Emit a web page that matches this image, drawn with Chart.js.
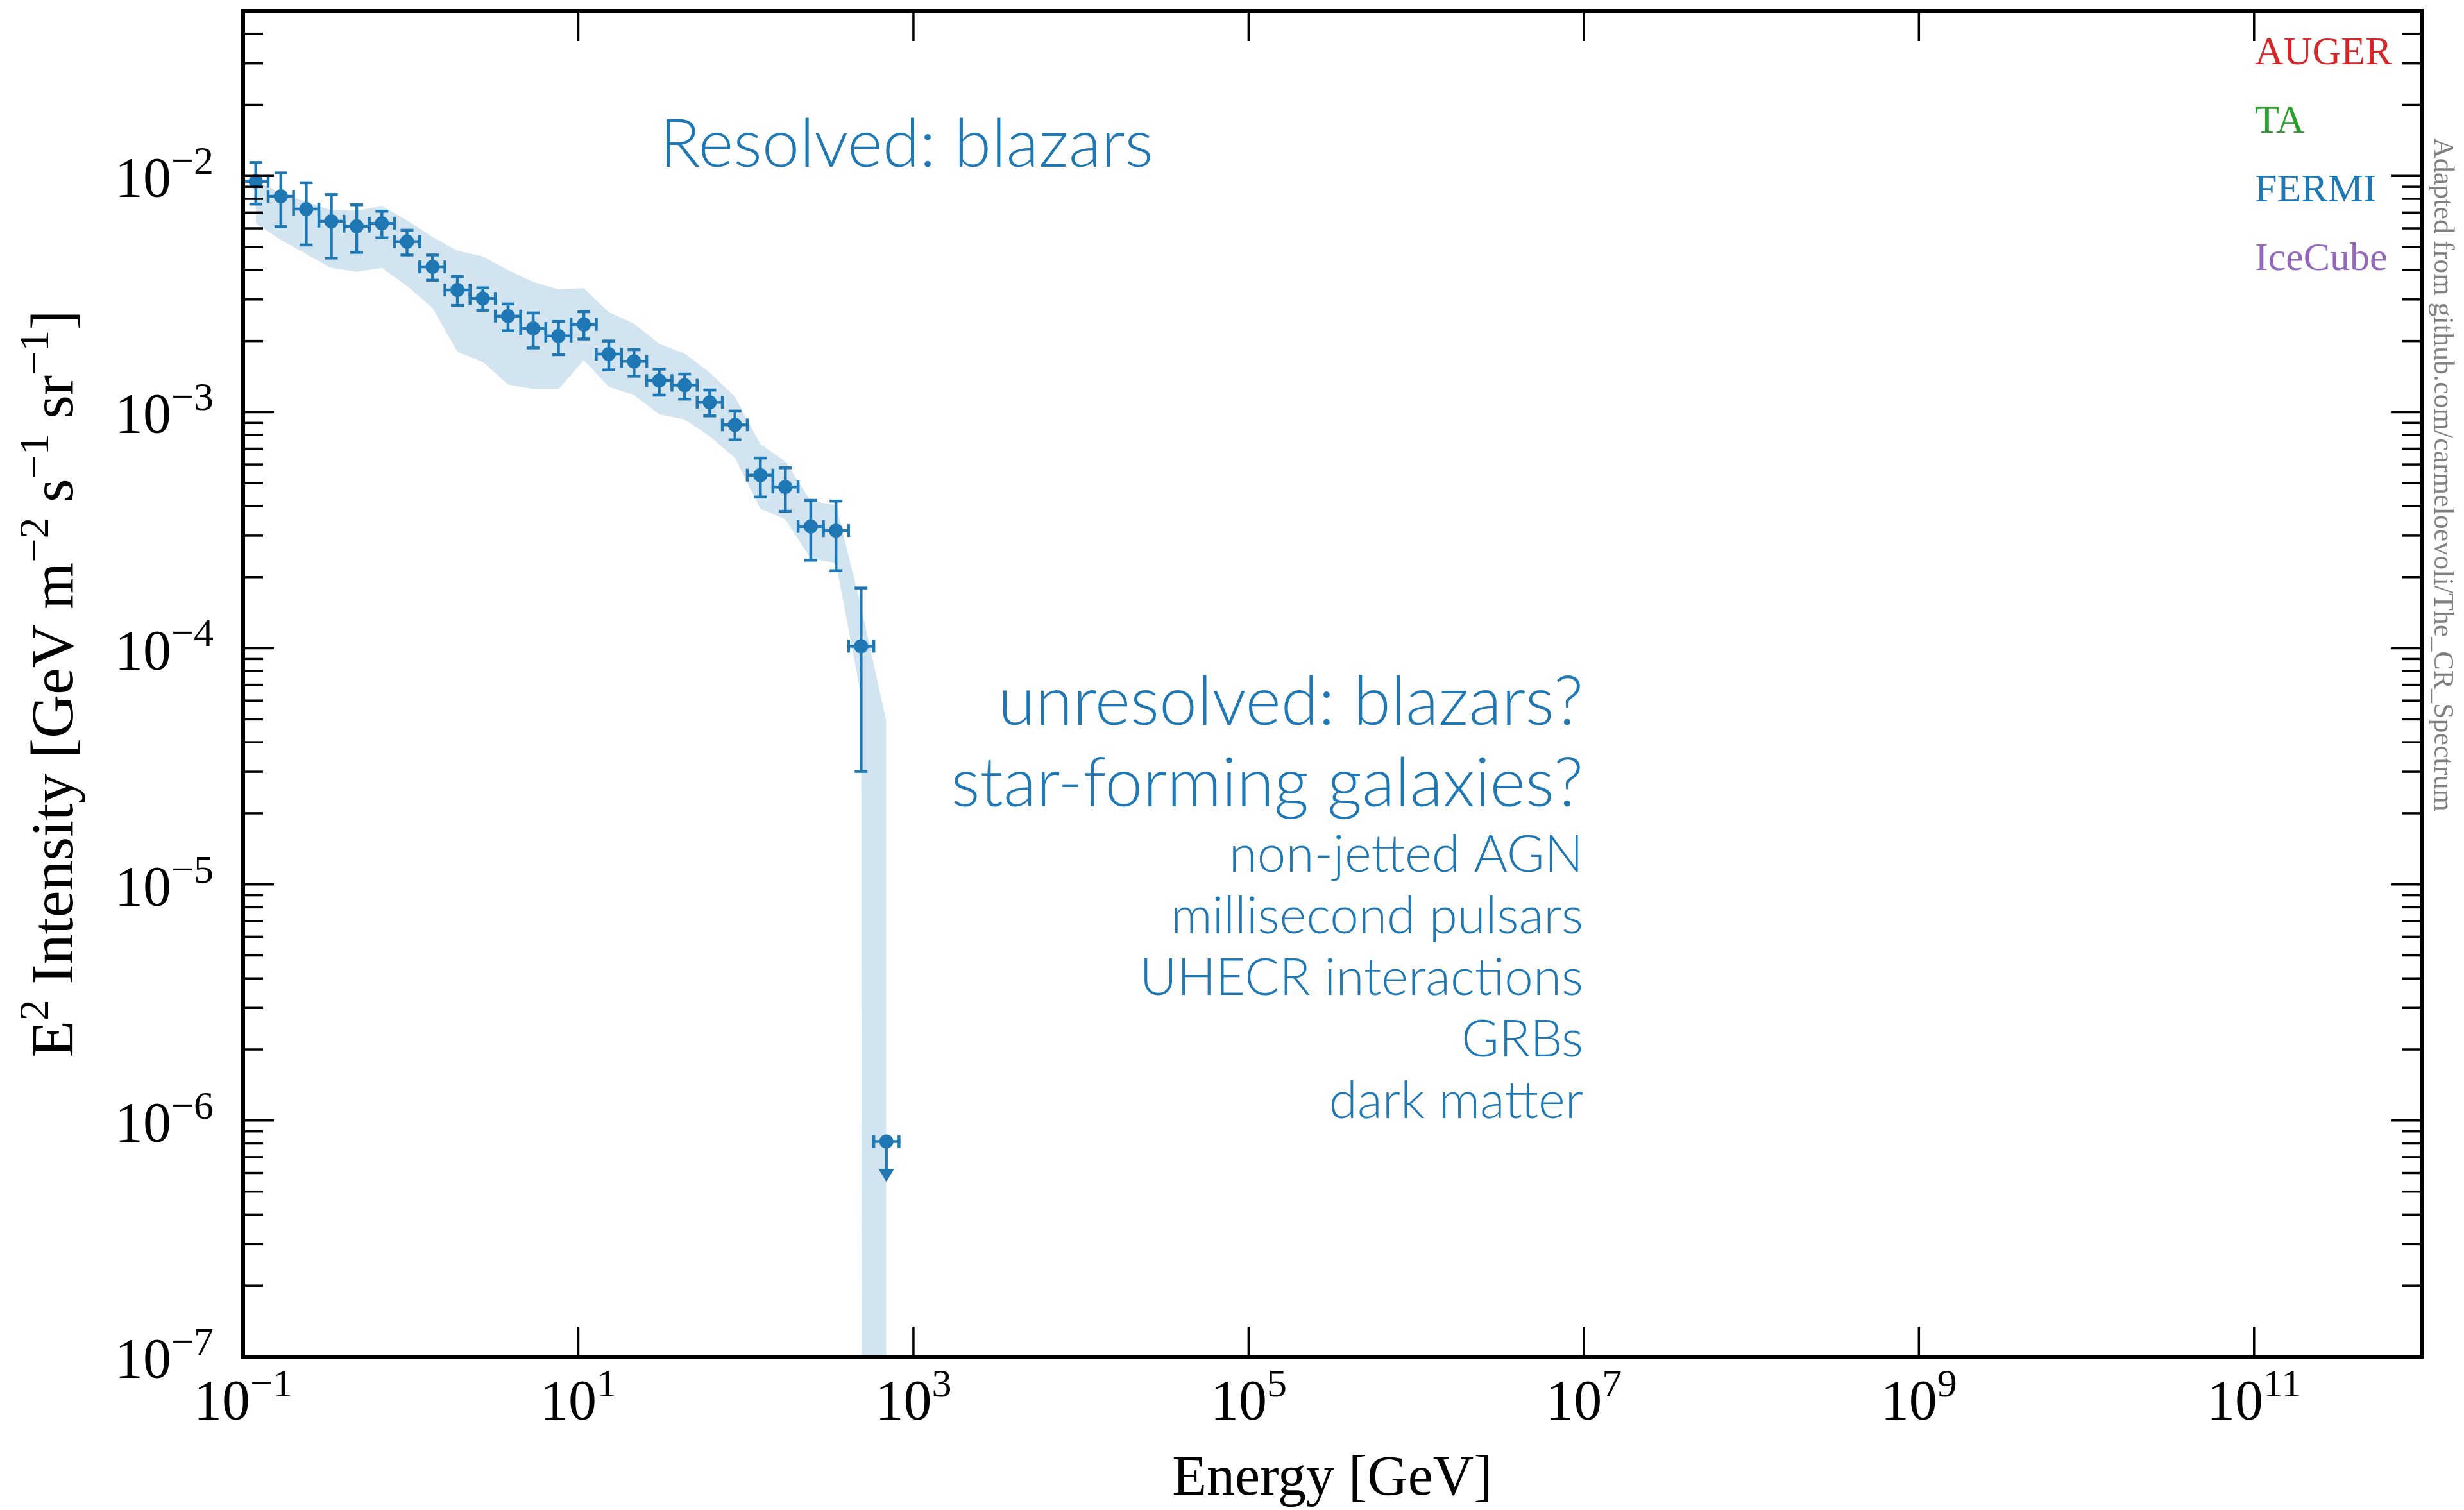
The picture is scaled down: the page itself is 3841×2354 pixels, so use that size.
<!DOCTYPE html>
<html>
<head>
<meta charset="utf-8">
<script src="https://cdn.jsdelivr.net/npm/chart.js@4.4.1/dist/chart.umd.min.js"></script>
<style>
  html, body { margin: 0; padding: 0; background: #fff; }
  #wrap { width: 3841px; height: 2354px; }
</style>
</head>
<body>
<div id="wrap"><canvas id="igrb" width="3841" height="2354"></canvas></div>
<script>
// Fermi-LAT isotropic gamma-ray background, E^2 I(E) in GeV m^-2 s^-1 sr^-1
const energy     = [0.119, 0.168, 0.238, 0.336, 0.476, 0.673, 0.951, 1.35, 1.90, 2.69, 3.81, 5.38, 7.61,
                    10.8, 15.2, 21.5, 30.4, 43.1, 60.9, 86.1, 122, 172, 244, 345, 487];
const energyLo   = [0.1, 0.141, 0.2, 0.283, 0.4, 0.566, 0.8, 1.13, 1.6, 2.26, 3.2, 4.53, 6.4,
                    9.05, 12.8, 18.1, 25.6, 36.2, 51.2, 72.4, 102, 145, 205, 290, 410];
const energyHi   = [0.141, 0.2, 0.283, 0.4, 0.566, 0.8, 1.13, 1.6, 2.26, 3.2, 4.53, 6.4, 9.05,
                    12.8, 18.1, 25.6, 36.2, 51.2, 72.4, 102, 145, 205, 290, 410, 580];
const intensity  = [9.49e-3, 8.2e-3, 7.24e-3, 6.43e-3, 6.12e-3, 6.3e-3, 5.27e-3, 4.12e-3, 3.29e-3, 3.03e-3,
                    2.55e-3, 2.26e-3, 2.1e-3, 2.35e-3, 1.76e-3, 1.64e-3, 1.36e-3, 1.30e-3, 1.10e-3, 8.83e-4,
                    5.41e-4, 4.82e-4, 3.28e-4, 3.15e-4, 1.02e-4];
const intensityHi = [1.14e-2, 1.03e-2, 9.36e-3, 8.34e-3, 7.55e-3, 7.09e-3, 5.89e-3, 4.63e-3, 3.75e-3, 3.36e-3,
                     2.87e-3, 2.63e-3, 2.42e-3, 2.66e-3, 2.0e-3, 1.84e-3, 1.52e-3, 1.45e-3, 1.24e-3, 1.01e-3,
                     6.39e-4, 5.81e-4, 4.23e-4, 4.2e-4, 1.8e-4];
const intensityLo = [7.6e-3, 6.1e-3, 5.1e-3, 4.49e-3, 4.75e-3, 5.47e-3, 4.63e-3, 3.62e-3, 2.83e-3, 2.70e-3,
                     2.21e-3, 1.87e-3, 1.75e-3, 2.04e-3, 1.51e-3, 1.42e-3, 1.18e-3, 1.135e-3, 9.64e-4, 7.63e-4,
                     4.37e-4, 3.8e-4, 2.36e-4, 2.13e-4, 3.01e-5];

// last bin is an upper limit
const limitEnergy = 689, limitEnergyLo = 580, limitEnergyHi = 820;
const limitValue = 8.15e-7, limitArrowTo = 5.5e-7;

// foreground-model systematic band (lower edge falls to zero in the last bin)
const bandEnergy = [0.119, 0.168, 0.238, 0.336, 0.476, 0.673, 0.951, 1.35, 1.90, 2.69, 3.81, 5.38, 7.61,
                    10.8, 15.2, 21.5, 30.4, 43.1, 60.9, 86.1, 122, 172, 244, 345, 487, 689];
const bandHi = [9.46e-3, 8.52e-3, 7.75e-3, 7.17e-3, 7.13e-3, 7.47e-3, 6.49e-3, 5.51e-3, 4.82e-3, 4.57e-3,
                3.99e-3, 3.56e-3, 3.31e-3, 3.35e-3, 2.65e-3, 2.37e-3, 1.95e-3, 1.77e-3, 1.47e-3, 1.16e-3,
                7.31e-4, 6.19e-4, 4.2e-4, 4.05e-4, 1.5e-4, 4.9e-5];
const bandLo = [6.3e-3, 5.36e-3, 4.67e-3, 4.08e-3, 3.93e-3, 4.08e-3, 3.42e-3, 2.76e-3, 1.80e-3, 1.63e-3,
                1.31e-3, 1.25e-3, 1.25e-3, 1.66e-3, 1.28e-3, 1.18e-3, 9.8e-4, 9.3e-4, 7.9e-4, 6.4e-4,
                3.9e-4, 3.52e-4, 2.39e-4, 2.3e-4, 6.3e-5, 1e-99];

const xTickExps = [-1, 1, 3, 5, 7, 9, 11];
const yTickExps = [-7, -6, -5, -4, -3, -2];
const minorMultiples = [2, 3, 4, 5, 6, 7, 8, 9];

const experiments = ["AUGER", "TA", "FERMI", "IceCube"];
const experimentColors = ["#d62728", "#2ca02c", "#1f77b4", "#9467bd"];

const resolvedText = "Resolved: blazars";
const unresolvedText = ["unresolved: blazars?", "star-forming galaxies?"];
const otherSources = ["non-jetted AGN", "millisecond pulsars", "UHECR interactions", "GRBs", "dark matter"];

const BLUE = "#1f77b4";
const SERIF = '"Liberation Serif", "DejaVu Serif", serif';
const LATO = '"Lato Light", Lato, sans-serif';

function seg(ctx, x0, y0, x1, y1) {
  ctx.beginPath();
  ctx.moveTo(x0, y0);
  ctx.lineTo(x1, y1);
  ctx.stroke();
}

// text made of [text, isSuperscript] pieces, drawn along one baseline
function runWidth(ctx, parts, size) {
  let w = 0;
  parts.forEach(([t, sup]) => {
    ctx.font = `${sup ? Math.round(size * 0.7) : size}px ${SERIF}`;
    w += ctx.measureText(t).width;
  });
  return w;
}
function drawRun(ctx, parts, x, y, size) {
  parts.forEach(([t, sup]) => {
    ctx.font = `${sup ? Math.round(size * 0.7) : size}px ${SERIF}`;
    ctx.fillText(t, x, sup ? y - size * 0.4 : y);
    x += ctx.measureText(t).width;
  });
}
function powerParts(exp) {
  return [["10", false], [exp < 0 ? "\u2212" + (-exp) : String(exp), true]];
}

const errorBars = {
  id: "errorBars",
  afterDatasetsDraw(chart) {
    const { ctx, scales: { x, y } } = chart;
    const cap = 10;
    ctx.save();
    ctx.strokeStyle = BLUE;
    ctx.fillStyle = BLUE;
    ctx.lineWidth = 4.5;
    energy.forEach((e, i) => {
      const px = x.getPixelForValue(e);
      const py = y.getPixelForValue(intensity[i]);
      const yt = y.getPixelForValue(intensityHi[i]);
      const yb = y.getPixelForValue(intensityLo[i]);
      const xl = x.getPixelForValue(energyLo[i]);
      const xr = x.getPixelForValue(energyHi[i]);
      seg(ctx, px, yt, px, yb);
      seg(ctx, px - cap, yt, px + cap, yt);
      seg(ctx, px - cap, yb, px + cap, yb);
      seg(ctx, xl, py, xr, py);
      seg(ctx, xl, py - cap, xl, py + cap);
      seg(ctx, xr, py - cap, xr, py + cap);
    });
    // upper limit with arrow
    const lx = x.getPixelForValue(limitEnergy);
    const ly = y.getPixelForValue(limitValue);
    const tip = y.getPixelForValue(limitArrowTo);
    const xl = x.getPixelForValue(limitEnergyLo);
    const xr = x.getPixelForValue(limitEnergyHi);
    seg(ctx, xl, ly, xr, ly);
    seg(ctx, xl, ly - cap, xl, ly + cap);
    seg(ctx, xr, ly - cap, xr, ly + cap);
    seg(ctx, lx, ly, lx, tip - 16);
    ctx.beginPath();
    ctx.moveTo(lx - 12, tip - 20);
    ctx.lineTo(lx + 12, tip - 20);
    ctx.lineTo(lx, tip);
    ctx.closePath();
    ctx.fill();
    ctx.restore();
  }
};

const frame = {
  id: "frame",
  afterDraw(chart) {
    const { ctx, chartArea: a, scales: { x, y } } = chart;
    ctx.save();
    ctx.strokeStyle = "#000";
    ctx.fillStyle = "#000";

    // inward ticks
    ctx.lineWidth = 3.5;
    xTickExps.forEach(p => {
      const px = x.getPixelForValue(Math.pow(10, p));
      seg(ctx, px, a.bottom, px, a.bottom - 47);
      seg(ctx, px, a.top, px, a.top + 47);
    });
    yTickExps.forEach(p => {
      const py = y.getPixelForValue(Math.pow(10, p));
      seg(ctx, a.left, py, a.left + 48, py);
      seg(ctx, a.right, py, a.right - 48, py);
      minorMultiples.forEach(m => {
        const v = m * Math.pow(10, p);
        if (v > y.max) return;
        const my = y.getPixelForValue(v);
        seg(ctx, a.left, my, a.left + 31, my);
        seg(ctx, a.right, my, a.right - 31, my);
      });
    });

    // frame
    ctx.lineWidth = 6;
    ctx.strokeRect(a.left, a.top, a.right - a.left, a.bottom - a.top);

    // tick labels
    ctx.textBaseline = "alphabetic";
    ctx.textAlign = "left";
    const tickSize = 88;
    xTickExps.forEach(p => {
      const parts = powerParts(p);
      const w = runWidth(ctx, parts, tickSize);
      drawRun(ctx, parts, x.getPixelForValue(Math.pow(10, p)) - w / 2, a.bottom + 97, tickSize);
    });
    yTickExps.forEach(p => {
      const parts = powerParts(p);
      const w = runWidth(ctx, parts, tickSize);
      drawRun(ctx, parts, 333 - w, y.getPixelForValue(Math.pow(10, p)) + 32, tickSize);
    });

    // axis titles
    ctx.font = `88px ${SERIF}`;
    ctx.textAlign = "center";
    ctx.fillText("Energy [GeV]", (a.left + a.right) / 2, 2330);

    const yTitle = [["E", false], ["2", true], [" Intensity [GeV m", false], ["\u22122", true],
                    [" s", false], ["\u22121", true], [" sr", false], ["\u22121", true], ["]", false]];
    ctx.textAlign = "left";
    const tw = runWidth(ctx, yTitle, 94);
    ctx.save();
    ctx.translate(113, (a.top + a.bottom) / 2);
    ctx.rotate(-Math.PI / 2);
    drawRun(ctx, yTitle, -tw / 2, 0, 94);
    ctx.restore();

    // experiment labels
    ctx.font = `62px ${SERIF}`;
    experiments.forEach((name, i) => {
      ctx.fillStyle = experimentColors[i];
      ctx.fillText(name, 3515, 100 + i * 107);
    });

    // credit line
    ctx.save();
    ctx.fillStyle = "#808080";
    ctx.font = `44px ${SERIF}`;
    ctx.translate(3795, 215);
    ctx.rotate(Math.PI / 2);
    ctx.fillText("Adapted from github.com/carmeloevoli/The_CR_Spectrum", 0, 0);
    ctx.restore();

    // source annotations
    ctx.fillStyle = BLUE;
    ctx.font = `300 105px ${LATO}`;
    ctx.textAlign = "left";
    ctx.fillText(resolvedText, 1028, 260);
    ctx.textAlign = "right";
    ctx.font = `300 106px ${LATO}`;
    unresolvedText.forEach((t, i) => ctx.fillText(t, 2468, 1130 + i * 127));
    ctx.font = `300 80px ${LATO}`;
    otherSources.forEach((t, i) => ctx.fillText(t, 2468, 1359 + i * 96));

    ctx.restore();
  }
};

function build() {
  new Chart(document.getElementById("igrb"), {
    type: "scatter",
    data: {
      datasets: [
        {
          data: bandEnergy.map((e, i) => ({ x: e, y: bandHi[i] })),
          showLine: true,
          pointRadius: 0,
          borderWidth: 0,
          borderColor: "rgba(0,0,0,0)",
          backgroundColor: "rgba(31,119,180,0.2)",
          fill: "+1"
        },
        {
          data: bandEnergy.map((e, i) => ({ x: e, y: bandLo[i] })),
          showLine: true,
          pointRadius: 0,
          borderWidth: 0,
          borderColor: "rgba(0,0,0,0)",
          fill: false
        },
        {
          data: energy.map((e, i) => ({ x: e, y: intensity[i] })),
          pointRadius: 11,
          pointBackgroundColor: BLUE,
          pointBorderWidth: 0,
          pointBorderColor: BLUE
        },
        {
          data: [{ x: limitEnergy, y: limitValue }],
          pointRadius: 11,
          pointBackgroundColor: BLUE,
          pointBorderWidth: 0,
          pointBorderColor: BLUE
        }
      ]
    },
    options: {
      responsive: false,
      animation: false,
      devicePixelRatio: 1,
      events: [],
      layout: { padding: { left: 379, top: 17, right: 66, bottom: 239 } },
      plugins: { legend: { display: false }, tooltip: { enabled: false } },
      scales: {
        x: { type: "logarithmic", min: 0.1, max: 1e12, display: false },
        y: { type: "logarithmic", min: 1e-7, max: 5e-2, display: false }
      }
    },
    plugins: [errorBars, frame]
  });
}

Promise.all([
  document.fonts.load(`300 100px ${LATO}`),
  document.fonts.load(`82px ${SERIF}`)
]).then(build, build);
</script>
</body>
</html>
